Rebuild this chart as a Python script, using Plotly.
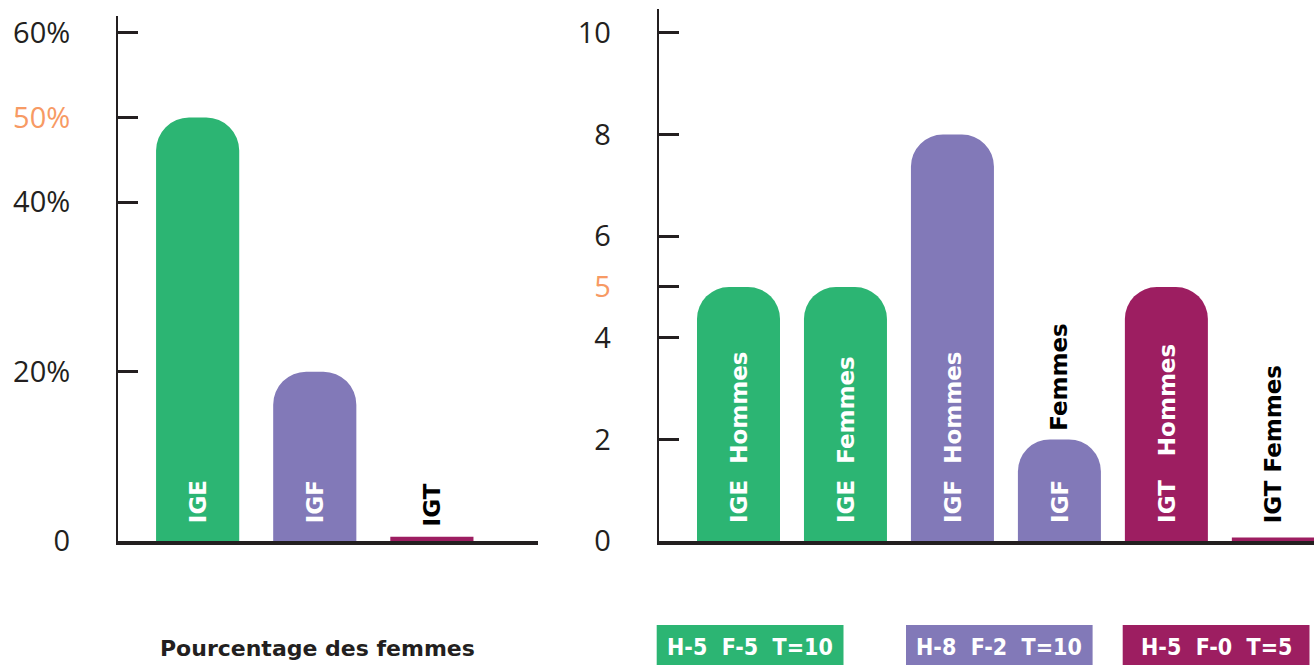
import plotly.graph_objects as go

# ---- data -------------------------------------------------------------
GREEN = "#2CB573"
PURPLE = "#8279B8"
MAGENTA = "#9D1E61"
ORANGE = "#F79A64"
INK = "#231F20"

# left panel: share of women per group (%)
pct_groups = ["IGE", "IGF", "IGT"]
pct_women = [50, 20, 0.5]
pct_colors = [GREEN, PURPLE, MAGENTA]
pct_label_colors = ["white", "white", "black"]

# right panel: head counts by group and sex
count_labels = ["IGE  Hommes", "IGE  Femmes", "IGF  Hommes", "IGF", "IGT   Hommes", "IGT Femmes"]
count_values = [5, 5, 8, 2, 5, 0.07]
count_colors = [GREEN, GREEN, PURPLE, PURPLE, MAGENTA, MAGENTA]
count_label_colors = ["white", "white", "white", "white", "white", "black"]

# labels drawn above the top of a bar
above_labels = {3: "Femmes"}

left_ticks = [0, 20, 40, 50, 60]
left_ticktext = ["0", "20%", "40%", "<span style='color:%s'>50%%</span>" % ORANGE, "60%"]
right_ticks = [0, 2, 4, 5, 6, 8, 10]
right_ticktext = ["0", "2", "4", "<span style='color:%s'>5</span>" % ORANGE, "6", "8", "10"]

summary_texts = ["H-5  F-5  T=10", "H-8  F-2  T=10", "H-5  F-0  T=5"]
summary_colors = [GREEN, PURPLE, MAGENTA]
footer_title = "Pourcentage des femmes"

W, H = 1314, 665
LABEL_FONT = "DejaVu Sans"
TICK_FONT = "Open Sans"
BOX_FONT = "DejaVu Sans Condensed, DejaVu Sans"


def nb(s):
    return s.replace(" ", "\u00a0")


fig = go.Figure()

# ---- left panel bars --------------------------------------------------
lx = list(range(len(pct_groups)))
big = [i for i, v in enumerate(pct_women) if v >= 1]
tiny = [i for i, v in enumerate(pct_women) if v < 1]
fig.add_trace(go.Bar(
    x=[lx[i] for i in big], y=[pct_women[i] for i in big],
    marker=dict(color=[pct_colors[i] for i in big], cornerradius=33, line=dict(width=0)),
    width=0.71, xaxis="x", yaxis="y", hoverinfo="skip",
))
fig.add_trace(go.Bar(
    x=[lx[i] for i in tiny], y=[pct_women[i] for i in tiny],
    marker=dict(color=[pct_colors[i] for i in tiny], line=dict(width=0)),
    width=0.71, xaxis="x", yaxis="y", hoverinfo="skip",
))

# ---- right panel bars -------------------------------------------------
rx = list(range(len(count_labels)))
big = [i for i, v in enumerate(count_values) if v >= 1]
tiny = [i for i, v in enumerate(count_values) if v < 1]
fig.add_trace(go.Bar(
    x=[rx[i] for i in big], y=[count_values[i] for i in big],
    marker=dict(color=[count_colors[i] for i in big], cornerradius=32, line=dict(width=0)),
    width=0.776, xaxis="x2", yaxis="y2", hoverinfo="skip",
))
fig.add_trace(go.Bar(
    x=[rx[i] for i in tiny], y=[count_values[i] for i in tiny],
    marker=dict(color=[count_colors[i] for i in tiny], line=dict(width=0)),
    width=0.776, xaxis="x2", yaxis="y2", hoverinfo="skip",
))

annotations = []


def label_font(color):
    return dict(family=LABEL_FONT, size=23, color=color, weight="bold")


# vertical labels sitting at the base of each bar
for i, g in enumerate(pct_groups):
    annotations.append(dict(
        x=lx[i], y=0, xref="x", yref="y", text=nb(g), textangle=-90,
        xanchor="center", yanchor="bottom", yshift=16 if pct_label_colors[i] == "white" else 13,
        showarrow=False, font=label_font(pct_label_colors[i]),
    ))
for i, t in enumerate(count_labels):
    annotations.append(dict(
        x=rx[i], y=0, xref="x2", yref="y2", text=nb(t), textangle=-90,
        xanchor="center", yanchor="bottom", yshift=16,
        showarrow=False, font=label_font(count_label_colors[i]),
    ))
for i, t in above_labels.items():
    annotations.append(dict(
        x=rx[i], y=count_values[i], xref="x2", yref="y2", text=nb(t), textangle=-90,
        xanchor="center", yanchor="bottom", yshift=7,
        showarrow=False, font=label_font("black"),
    ))

# footer title under the left panel
annotations.append(dict(
    x=317 / W, y=1 - 634 / H, xref="paper", yref="paper", text=footer_title,
    xanchor="center", yanchor="top", showarrow=False,
    font=dict(family=LABEL_FONT, size=22, color=INK, weight="bold"),
))

# coloured summary boxes under the right panel
box_x = [(656.7, 843.5), (906.0, 1092.6), (1122.7, 1309.5)]
shapes = []
for (x0, x1), t, c in zip(box_x, summary_texts, summary_colors):
    shapes.append(dict(
        type="rect", xref="paper", yref="paper",
        x0=x0 / W, x1=x1 / W, y0=0, y1=1 - 625 / H,
        fillcolor=c, line=dict(width=0), layer="above",
    ))
    annotations.append(dict(
        x=(x0 + x1) / 2 / W, y=1 - 647 / H, xref="paper", yref="paper", text=nb(t),
        xanchor="center", yanchor="middle", showarrow=False,
        font=dict(family=BOX_FONT, size=23, color="white", weight="bold"),
    ))

bottom = 1 - 541 / H
axis_common = dict(
    showgrid=False, zeroline=False, showline=True, linecolor=INK,
)
ytick_common = dict(
    ticks="inside", ticklen=20, tickwidth=3, tickcolor=INK,
    tickfont=dict(family=TICK_FONT, size=29, color=INK),
    ticklabelstandoff=40, tickmode="array",
)

fig.update_layout(
    width=W, height=H,
    margin=dict(l=0, r=0, t=0, b=0, autoexpand=False),
    paper_bgcolor="white", plot_bgcolor="white",
    showlegend=False, barmode="overlay",
    xaxis=dict(domain=[118 / W, 538 / W], range=[-0.68, 2.906], showticklabels=False,
               ticks="", linewidth=3.5, anchor="y", fixedrange=True, **axis_common),
    yaxis=dict(domain=[bottom, 1 - 16 / H], range=[0, 62], anchor="x", linewidth=2,
               tickvals=left_ticks, ticktext=left_ticktext, **ytick_common, **axis_common),
    xaxis2=dict(domain=[658.7 / W, 1.0], range=[-0.746, 5.38], showticklabels=False,
                ticks="", linewidth=3.5, anchor="y2", fixedrange=True, **axis_common),
    yaxis2=dict(domain=[bottom, 1 - 9 / H], range=[0, 10.47], anchor="x2", linewidth=2,
                tickvals=right_ticks, ticktext=right_ticktext, **ytick_common, **axis_common),
    annotations=annotations,
    shapes=shapes,
)

fig.write_html("out.html")
